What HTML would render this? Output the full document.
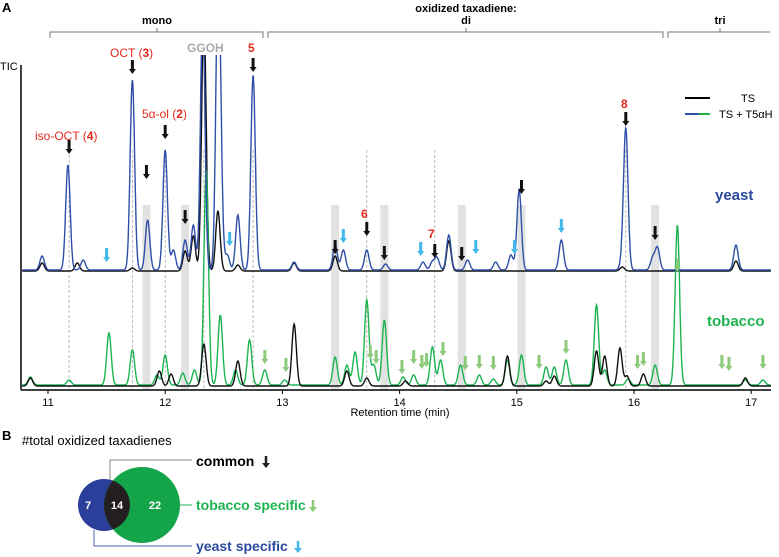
<!DOCTYPE html>
<html><head><meta charset="utf-8"><style>
body{margin:0;background:#fff;font-family:"Liberation Sans",Arial,sans-serif}
svg{display:block}
</style></head><body>
<svg id="fig" width="779" height="557" viewBox="0 0 779 557" xmlns="http://www.w3.org/2000/svg" font-family="Liberation Sans, sans-serif">
<text x="2" y="12" font-size="13" font-weight="bold">A</text>
<g stroke="#777" fill="none" stroke-width="1">
<path d="M50 38V32H263V38M157 32V28"/>
<path d="M268 38V32H663V38M466 32V28"/>
<path d="M668 38V32H770M720 32V28"/>
</g>
<text x="157" y="24" font-size="11" font-weight="bold" text-anchor="middle">mono</text>
<text x="466" y="12" font-size="11" font-weight="bold" text-anchor="middle">oxidized taxadiene:</text>
<text x="466" y="24" font-size="11" font-weight="bold" text-anchor="middle">di</text>
<text x="720" y="24" font-size="11" font-weight="bold" text-anchor="middle">tri</text>
<text x="0" y="70" font-size="11">TIC</text>
<g id="bands"></g>
<g id="dashes"></g>
<defs><clipPath id="cp"><rect x="21" y="55" width="760" height="340"/></clipPath></defs>
<g id="traces" clip-path="url(#cp)"></g>
<line x1="21" y1="65" x2="21" y2="390" stroke="#000" stroke-width="1.5"/>
<line x1="21" y1="390" x2="771" y2="390" stroke="#000" stroke-width="1.5"/>
<g id="ticks"></g>
<text x="400" y="416" font-size="11" text-anchor="middle">Retention time (min)</text>
<g id="arrows"></g>
<g font-size="12" fill="#e8281e">
<text x="35" y="140">iso-OCT (<tspan font-weight="bold">4</tspan>)</text>
<text x="110" y="57">OCT (<tspan font-weight="bold">3</tspan>)</text>
<text x="142" y="118">5α-ol (<tspan font-weight="bold">2</tspan>)</text>
<text x="248" y="52" font-weight="bold">5</text>
<text x="361" y="218" font-weight="bold">6</text>
<text x="428" y="238" font-weight="bold">7</text>
<text x="621" y="108" font-weight="bold">8</text>
</g>
<text x="187" y="52" font-size="12" font-weight="bold" fill="#aaa">GGOH</text>
<g>
<line x1="685" y1="98" x2="710" y2="98" stroke="#000" stroke-width="2"/>
<text x="748" y="102" font-size="11" text-anchor="middle">TS</text>
<line x1="685" y1="114" x2="699" y2="114" stroke="#2f4fa8" stroke-width="2"/>
<line x1="699" y1="114" x2="710" y2="114" stroke="#1db450" stroke-width="2"/>
<text x="719" y="118" font-size="11">TS + T5αH</text>
</g>
<text x="715" y="200" font-size="15" font-weight="bold" fill="#2a4a9f">yeast</text>
<text x="707" y="326" font-size="15" font-weight="bold" fill="#1db450">tobacco</text>
<text x="2" y="440" font-size="13" font-weight="bold">B</text>
<text x="22" y="445" font-size="13">#total oxidized taxadienes</text>
<g>
<circle cx="104" cy="505" r="26" fill="#2a3f9a"/>
<circle cx="142" cy="505" r="38" fill="#14a54a"/>
<clipPath id="vc"><circle cx="104" cy="505" r="26"/></clipPath>
<circle cx="142" cy="505" r="38" fill="#231f20" clip-path="url(#vc)"/>
<text x="88" y="509" font-size="11" font-weight="bold" fill="#fff" text-anchor="middle">7</text>
<text x="117" y="509" font-size="11" font-weight="bold" fill="#fff" text-anchor="middle">14</text>
<text x="155" y="509" font-size="11" font-weight="bold" fill="#fff" text-anchor="middle">22</text>
<path d="M110 480V460H192" stroke="#888" fill="none"/>
<path d="M180 505H192" stroke="#1db450" fill="none"/>
<path d="M94 530V546H192" stroke="#4a5fb5" fill="none"/>
<text x="196" y="466" font-size="14" font-weight="bold">common</text>
<path d="M266 456v8" stroke="#222" stroke-width="2.5"/><path d="M262 463l4 5 4-5z" fill="#222"/>
<text x="196" y="510" font-size="14" font-weight="bold" fill="#1db450">tobacco specific</text>
<path d="M313 500v8" stroke="#8cc97a" stroke-width="2.5"/><path d="M309 507l4 5 4-5z" fill="#8cc97a"/>
<text x="196" y="551" font-size="14" font-weight="bold" fill="#2a4a9f">yeast specific</text>
<path d="M298 541v8" stroke="#41b8ea" stroke-width="2.5"/><path d="M294 548l4 5 4-5z" fill="#41b8ea"/>
</g>
</svg>
<script>
// data
const tickLabels=[11,12,13,14,15,16,17];
const yeastT5Times=[10.95,11.17,11.3,11.72,11.85,12.0,12.07,12.17,12.24,12.32,12.45,12.47,12.53,12.62,12.75,13.1,13.45,13.52,13.72,13.88,14.2,14.28,14.32,14.42,14.58,14.82,14.95,15.02,15.38,15.9,15.93,16.16,16.2,16.87];
const yeastT5Heights=[14,105,10,190,50,120,20,30,45,260,260,80,15,55,195,8,25,20,20,6,8,8,12,35,10,8,15,80,30,8,140,12,22,25];
const yeastTSTimes=[10.95,11.25,11.72,12.17,12.24,12.33,12.45,12.62,13.1,13.45,14.42,15.9,16.87];
const yeastTSHeights=[8,8,3,20,35,260,60,6,8,15,30,4,10];
const tobT5Times=[10.85,11.18,11.52,11.72,11.93,12.0,12.15,12.25,12.35,12.47,12.6,12.72,12.85,13.02,13.45,13.55,13.62,13.72,13.78,13.87,14.03,14.12,14.28,14.35,14.52,14.68,14.8,14.92,15.04,15.25,15.32,15.42,15.68,15.75,15.95,16.18,16.37,16.95,17.1];
const tobT5Heights=[8,5,52,35,10,30,12,15,215,70,15,45,15,5,28,20,33,85,20,65,8,10,38,25,20,10,6,25,30,18,18,25,80,15,6,20,160,5,5];
const tobTSTimes=[10.85,11.95,12.05,12.33,12.62,13.1,13.55,13.72,14.05,14.92,15.25,15.32,15.68,15.75,15.88,15.94,16.08,16.95];
const tobTSHeights=[8,15,12,42,25,62,15,8,5,30,5,10,35,30,38,10,12,8];
const bandTimes=[11.84,12.17,13.45,13.87,14.53,15.04,16.18];
const guideTimes=[11.18,11.72,12.0,12.33,12.75,13.72,14.3,15.93];
const blackArrowTimes=[11.18,11.72,11.84,12.0,12.17,12.75,13.45,13.72,13.87,14.3,14.53,15.04,15.93,16.18];
const blackArrowY=[140,60,165,125,210,58,240,222,246,244,247,180,112,226];
const blueArrowTimes=[11.5,12.55,13.52,14.18,14.65,14.98,15.38];
const blueArrowY=[248,232,229,242,240,240,219];
const greenArrowTimes=[12.85,13.03,13.75,13.8,14.02,14.12,14.19,14.23,14.37,14.56,14.68,14.8,15.19,15.42,16.03,16.08,16.37,16.75,16.81,17.1];
const greenArrowY=[350,358,345,350,360,350,355,353,342,356,355,356,355,340,355,352,258,355,357,355];

const NS='http://www.w3.org/2000/svg';
const X=t=>48+(t-11)*117.2;
function mk(tag,attrs,parent){const e=document.createElementNS(NS,tag);for(const k in attrs)e.setAttribute(k,attrs[k]);parent.appendChild(e);return e;}
function trace(times,heights,base,sig){let d='';for(let t=10.78;t<=17.17;t+=0.004){let v=0;for(let i=0;i<times.length;i++){const z=(t-times[i])/sig;v+=heights[i]*Math.exp(-0.5*z*z);}d+=(d?'L':'M')+X(t).toFixed(1)+' '+(base-v).toFixed(1);}return d;}
const tr=document.getElementById('traces');
let p;
p=mk('path',{d:trace(yeastTSTimes,yeastTSHeights,271,0.019),fill:'none',stroke:'#111','stroke-width':1.4},tr);


p=mk('path',{d:trace(tobT5Times,tobT5Heights,385,0.019),fill:'none',stroke:'#1db450','stroke-width':1.4},tr);


p=mk('path',{d:trace(tobTSTimes,tobTSHeights,386,0.019),fill:'none',stroke:'#111','stroke-width':1.4},tr);


p=mk('path',{d:trace(yeastT5Times,yeastT5Heights,270,0.019),fill:'none',stroke:'#2f4fa8','stroke-width':1.4},tr);


const bands=document.getElementById('bands');
bandTimes.forEach(t=>{const r=mk('rect',{x:X(t)-4,y:205,width:8,height:185,fill:'#e2e2e2'},bands);

});
const dashes=document.getElementById('dashes');
guideTimes.forEach(t=>{const l=mk('line',{x1:X(t),x2:X(t),y1:150,y2:390,stroke:'#aaa','stroke-dasharray':'3,2','stroke-width':0.8},dashes);

});
const ticks=document.getElementById('ticks');
tickLabels.forEach(v=>{mk('line',{x1:X(v),x2:X(v),y1:390,y2:394,stroke:'#000'},ticks);
const tx=mk('text',{x:X(v),y:406,'font-size':11,'text-anchor':'middle'},ticks);tx.textContent=v;

});
const arrows=document.getElementById('arrows');
function arrow(t,y,col,w){const x=X(t);mk('path',{d:`M${x} ${y}v10`,stroke:col,'stroke-width':w},arrows);
const h=mk('path',{d:`M${x-3.5} ${y+9}L${x} ${y+14}L${x+3.5} ${y+9}Z`,fill:col},arrows);return h;}
blackArrowTimes.forEach((t,i)=>{const a=arrow(t,blackArrowY[i],'#111',3);

});
blueArrowTimes.forEach((t,i)=>{const a=arrow(t,blueArrowY[i],'#41b8ea',3);

});
greenArrowTimes.forEach((t,i)=>{const a=arrow(t,greenArrowY[i],'#8cc97a',3);

});
</script>
</body></html>
